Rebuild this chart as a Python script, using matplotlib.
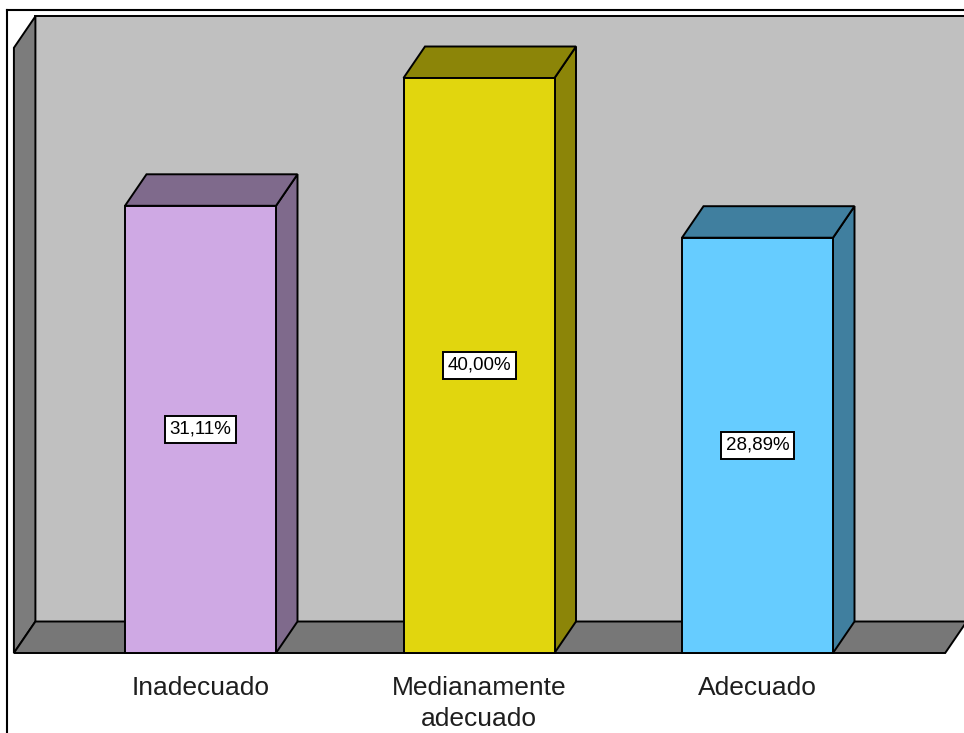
import matplotlib

matplotlib.use("Agg")

import matplotlib.pyplot as plt
from matplotlib.lines import Line2D
from matplotlib.patches import Polygon, Rectangle

# Datos del grafico
categorias = ["Inadecuado", "Medianamente\nadecuado", "Adecuado"]
porcentajes = [31.11, 40.00, 28.89]
etiquetas = ["31,11%", "40,00%", "28,89%"]

colores_frente = ["#CFA9E4", "#E1D60E", "#66CCFF"]
colores_lado = ["#7F6A8C", "#8C8508", "#407F9F"]

# Escala aproximada en pixeles (solo para la perspectiva)
PX_X = 278.5
PX_Y = 14.375
DX = 21.5 / PX_X
DY = 31.5 / PX_Y
ANCHO = 75.5 / PX_X
X_MIN, X_MAX = -0.67, 2.674
Y_TOP = 42.1

plt.rcParams["font.family"] = ["Liberation Sans", "DejaVu Sans"]

fig = plt.figure(figsize=(9.64, 7.33), dpi=100)
ax = fig.add_axes([0, 0, 1, 1])
ax.set_xlim(-200.5 / PX_X, (964 - 200.5) / PX_X)
ax.set_ylim(-80 / PX_Y, 653 / PX_Y)
ax.axis("off")

borde = dict(edgecolor="black", linewidth=1.4, joinstyle="miter")

# Paredes y piso
ax.add_patch(Rectangle((X_MIN + DX, DY), X_MAX - X_MIN, Y_TOP, facecolor="#C0C0C0", **borde))
ax.add_patch(Polygon([(X_MIN, 0), (X_MIN, Y_TOP), (X_MIN + DX, Y_TOP + DY), (X_MIN + DX, DY)],
                     closed=True, facecolor="#7C7C7C", **borde))
ax.add_patch(Polygon([(X_MIN, 0), (X_MAX, 0), (X_MAX + DX, DY), (X_MIN + DX, DY)],
                     closed=True, facecolor="#777777", **borde))

# Barras 3D
for i, (v, cf, cl, et) in enumerate(zip(porcentajes, colores_frente, colores_lado, etiquetas)):
    x0, x1 = i - ANCHO, i + ANCHO
    ax.add_patch(Polygon([(x1, 0), (x1 + DX, DY), (x1 + DX, v + DY), (x1, v)],
                         closed=True, facecolor=cl, **borde))
    ax.add_patch(Polygon([(x0, v), (x1, v), (x1 + DX, v + DY), (x0 + DX, v + DY)],
                         closed=True, facecolor=cl, **borde))
    ax.add_patch(Rectangle((x0, 0), x1 - x0, v, facecolor=cf, **borde))
    ax.text(i, v / 2, et, ha="center", va="center", fontsize=13.5, color="black",
            bbox=dict(boxstyle="square,pad=0.25", facecolor="white", edgecolor="black", linewidth=1.4))
    ax.text(i, -1.6, categorias[i], ha="center", va="top", fontsize=19,
            color="#1E1E1E", linespacing=1.35)

# Marco exterior
fig.add_artist(Line2D([7 / 964, 1], [1 - 10 / 733, 1 - 10 / 733], color="black", linewidth=1.5))
fig.add_artist(Line2D([7 / 964, 7 / 964], [0, 1 - 10 / 733], color="black", linewidth=1.5))

fig.savefig("out.png", dpi=100)
plt.close(fig)
